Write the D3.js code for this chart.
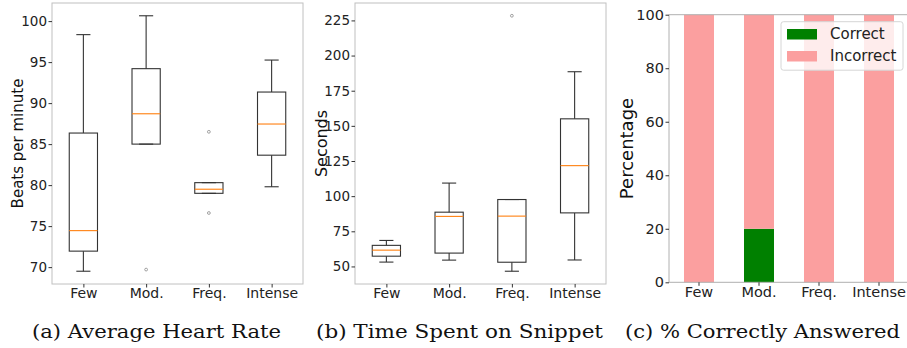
<!DOCTYPE html>
<html>
<head>
<meta charset="utf-8">
<script src="https://cdn.jsdelivr.net/npm/d3@7"></script>
<style>
  body { margin: 0; background: #fff; }
  svg { display: block; }
</style>
</head>
<body>
<script>
// Data
const categories = ["Few", "Mod.", "Freq.", "Intense"];

// box stats per category: [whisker low, Q1, median, Q3, whisker high]
const heartStats = [
  [69.5, 71.95, 74.45, 86.35, 98.35],
  [85.0, 85.0, 88.7, 94.2, 100.65],
  [79.0, 79.0, 79.5, 80.3, 80.3],
  [79.8, 83.65, 87.45, 91.35, 95.25]
];
const heartOutliers = [[], [69.7], [86.5, 76.6], []];
const heartTicks = [70, 75, 80, 85, 90, 95, 100];

const timeStats = [
  [53.1, 57.3, 61.6, 65.0, 68.5],
  [54.5, 59.5, 85.6, 88.6, 109.3],
  [46.6, 53.0, 85.8, 97.6, 97.6],
  [54.6, 88.1, 121.7, 155.0, 188.5]
];
const timeOutliers = [[], [], [228.3], []];
const timeTicks = [50, 75, 100, 125, 150, 175, 200, 225];

const correctPct = [0, 20, 0, 0];
const incorrectPct = [100, 80, 100, 100];
const pctTicks = [0, 20, 40, 60, 80, 100];
const seriesNames = ["Correct", "Incorrect"];
const seriesColors = ["#008000", "#fb9f9f"];

const captions = ["(a) Average Heart Rate", "(b) Time Spent on Snippet", "(c) % Correctly Answered"];

const W = 907, H = 348;
const svg = d3.select("body").append("svg")
  .attr("width", W)
  .attr("height", H)
  .style("font-family", "'DejaVu Sans', sans-serif");

// Draw one boxplot panel
function boxPanel(box, stats, outliers, ticks, label, labelX, labelSize) {
  const g = svg.append("g");

  // matplotlib-style 5% padding around all data incl. fliers
  const all = stats.flat().concat(outliers.flat());
  const lo = d3.min(all), hi = d3.max(all);
  const pad = (hi - lo) * 0.05;

  const x = d3.scaleLinear().domain([0.5, categories.length + 0.5]).range([box.left, box.right]);
  const y = d3.scaleLinear().domain([lo - pad, hi + pad]).range([box.bottom, box.top]);
  const boxW = x(1.45) - x(1);
  const capW = boxW / 2;

  g.append("rect")
    .attr("x", box.left).attr("y", box.top)
    .attr("width", box.right - box.left).attr("height", box.bottom - box.top)
    .attr("fill", "none").attr("stroke", "#c0c0c0").attr("stroke-width", 1);

  const items = g.selectAll("g.box").data(stats).join("g").attr("class", "box");
  const stroke = "#333";

  items.each(function (s, i) {
    const cx = x(i + 1);
    const el = d3.select(this);
    // whiskers
    el.append("line").attr("x1", cx).attr("x2", cx).attr("y1", y(s[0])).attr("y2", y(s[1]))
      .attr("stroke", stroke).attr("stroke-width", 1.1);
    el.append("line").attr("x1", cx).attr("x2", cx).attr("y1", y(s[3])).attr("y2", y(s[4]))
      .attr("stroke", stroke).attr("stroke-width", 1.1);
    // caps
    [s[0], s[4]].forEach((v) => {
      el.append("line").attr("x1", cx - capW / 2).attr("x2", cx + capW / 2)
        .attr("y1", y(v)).attr("y2", y(v))
        .attr("stroke", stroke).attr("stroke-width", 1.1);
    });
    // box
    el.append("rect")
      .attr("x", cx - boxW / 2).attr("y", y(s[3]))
      .attr("width", boxW).attr("height", Math.max(0.5, y(s[1]) - y(s[3])))
      .attr("fill", "none").attr("stroke", stroke).attr("stroke-width", 1.1);
    // median
    el.append("line").attr("x1", cx - boxW / 2).attr("x2", cx + boxW / 2)
      .attr("y1", y(s[2])).attr("y2", y(s[2]))
      .attr("stroke", "#ff7f0e").attr("stroke-width", 1.1);
    // fliers
    el.selectAll("circle").data(outliers[i]).join("circle")
      .attr("cx", cx).attr("cy", (d) => y(d)).attr("r", 1.4)
      .attr("fill", "none").attr("stroke", "#8a8a8a").attr("stroke-width", 0.8);
  });

  const yAxis = g.append("g").attr("transform", `translate(${box.left},0)`)
    .call(d3.axisLeft(y).tickValues(ticks).tickSize(3.5).tickPadding(1.5));
  yAxis.select(".domain").remove();
  yAxis.selectAll("line").attr("stroke", "#333");
  yAxis.selectAll("text").attr("font-size", 13.5).attr("fill", "#222").attr("font-family", "'DejaVu Sans', sans-serif");

  const xAxis = g.append("g").attr("transform", `translate(0,${box.bottom})`)
    .call(d3.axisBottom(x).tickValues(categories.map((c, i) => i + 1))
      .tickFormat((d) => categories[d - 1]).tickSize(3.5).tickPadding(0.2));
  xAxis.select(".domain").remove();
  xAxis.selectAll("line").attr("stroke", "#333");
  xAxis.selectAll("text").attr("font-size", 14).attr("fill", "#222").attr("font-family", "'DejaVu Sans', sans-serif");

  g.append("text")
    .attr("transform", `translate(${labelX},${(box.top + box.bottom) / 2}) rotate(-90)`)
    .attr("text-anchor", "middle")
    .attr("font-size", labelSize)
    .attr("fill", "#111")
    .text(label);
}

boxPanel({ left: 52, right: 303, top: 3, bottom: 284 }, heartStats, heartOutliers, heartTicks,
  "Beats per minute", 22.5, 15);
boxPanel({ left: 355, right: 606, top: 3, bottom: 284 }, timeStats, timeOutliers, timeTicks,
  "Seconds", 326.5, 16);

// Panel (c): stacked percentage bars
(function () {
  const box = { left: 669, right: 909, top: 14.7, bottom: 282.3 };
  const g = svg.append("g");

  const rows = categories.map((c, i) => ({ cat: c, Correct: correctPct[i], Incorrect: incorrectPct[i] }));
  const stack = d3.stack().keys(seriesNames)(rows);

  const x = d3.scaleBand().domain(categories).range([box.left, box.right]).paddingInner(0.5).paddingOuter(0.25);
  const y = d3.scaleLinear().domain([0, 100]).range([box.bottom, box.top]);
  const color = d3.scaleOrdinal().domain(seriesNames).range(seriesColors);

  g.selectAll("g.series").data(stack).join("g")
    .attr("class", "series")
    .attr("fill", (d) => color(d.key))
    .selectAll("rect").data((d) => d).join("rect")
    .attr("x", (d) => x(d.data.cat))
    .attr("width", x.bandwidth())
    .attr("y", (d) => y(d[1]))
    .attr("height", (d) => y(d[0]) - y(d[1]));

  // spines: left, bottom, top (right one falls outside the picture)
  g.append("path")
    .attr("d", `M${box.right},${box.top}H${box.left}V${box.bottom}H${box.right}`)
    .attr("fill", "none").attr("stroke", "#b0b0b0").attr("stroke-width", 1);

  const yAxis = g.append("g").attr("transform", `translate(${box.left},0)`)
    .call(d3.axisLeft(y).tickValues(pctTicks).tickSize(3.5).tickPadding(1.5));
  yAxis.select(".domain").remove();
  yAxis.selectAll("line").attr("stroke", "#333");
  yAxis.selectAll("text").attr("font-size", 14.5).attr("fill", "#222").attr("font-family", "'DejaVu Sans', sans-serif");

  const xAxis = g.append("g").attr("transform", `translate(0,${box.bottom})`)
    .call(d3.axisBottom(x).tickSize(3.5).tickPadding(0.6));
  xAxis.select(".domain").remove();
  xAxis.selectAll("line").attr("stroke", "#333");
  xAxis.selectAll("text").attr("font-size", 14.5).attr("fill", "#222").attr("font-family", "'DejaVu Sans', sans-serif");

  g.append("text")
    .attr("transform", `translate(633,${(box.top + box.bottom) / 2}) rotate(-90)`)
    .attr("text-anchor", "middle")
    .attr("font-size", 18)
    .attr("fill", "#111")
    .text("Percentage");

  // legend
  const lg = g.append("g").attr("transform", "translate(781,21.7)");
  lg.append("rect")
    .attr("width", 122).attr("height", 48.5).attr("rx", 2.5)
    .attr("fill", "#fff").attr("fill-opacity", 0.8)
    .attr("stroke", "#d6d6d6").attr("stroke-width", 1);
  const entry = lg.selectAll("g.entry").data(seriesNames).join("g")
    .attr("class", "entry")
    .attr("transform", (d, i) => `translate(6,${7.3 + i * 22})`);
  entry.append("rect").attr("width", 30).attr("height", 10.5).attr("fill", (d) => color(d));
  entry.append("text").attr("x", 43).attr("y", 10.3)
    .attr("font-size", 15).attr("fill", "#222").text((d) => d);
})();

// Sub-figure captions
const capCenters = [156.5, 459.5, 762.5];
const capWidths = [249, 287, 275];
svg.selectAll("text.caption").data(captions).join("text")
  .attr("class", "caption")
  .attr("x", (d, i) => capCenters[i] - capWidths[i] / 2)
  .attr("y", 337.5)
  .attr("textLength", (d, i) => capWidths[i])
  .attr("lengthAdjust", "spacingAndGlyphs")
  .attr("font-family", "'DejaVu Serif', serif")
  .attr("font-size", 19)
  .attr("fill", "#111")
  .text((d) => d);
</script>
</body>
</html>
